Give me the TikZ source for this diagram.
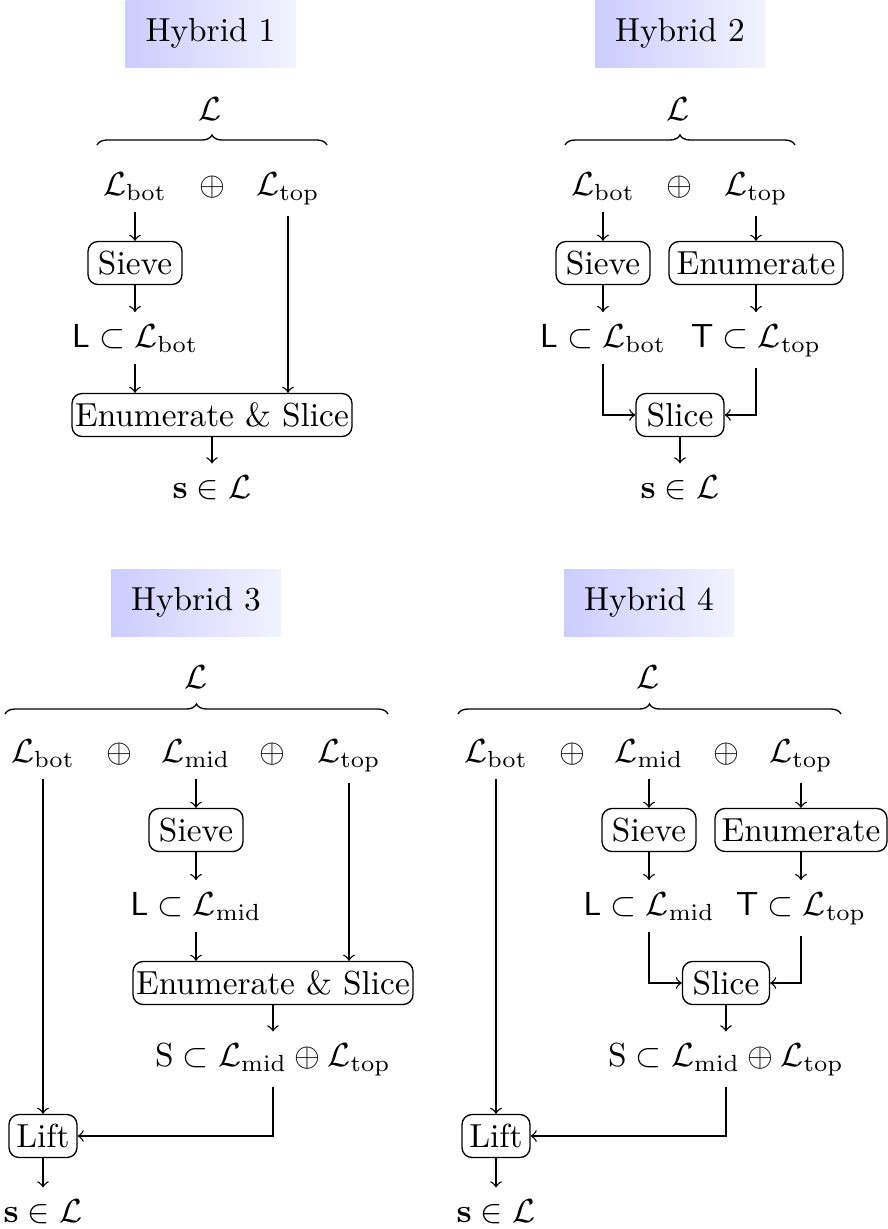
\documentclass[tikz,border=0pt]{standalone}
\usetikzlibrary{decorations.pathreplacing}
\begin{document}
\begin{tikzpicture}[x=0.3pt,y=-0.3pt,
  every node/.style={font=\fontsize{10}{12}\selectfont},
  title/.style={left color=blue!20, right color=blue!5, minimum width=51pt, minimum height=20.1pt, inner sep=0pt},
  proc/.style={draw, rounded corners=3pt, minimum height=12.9pt, inner sep=0pt},
  lbl/.style={anchor=base},
  conn/.style={->},
  bracestyle/.style={decorate, decoration={brace, amplitude=3pt}}]
\useasboundingbox (0,0) rectangle (888,1229);

% ---------------- Panel 1 ----------------
\node[title] (t1) at (210.5,33.5) {Hybrid 1};
\node[lbl] (p1L) at (210,120) {$\mathcal{L}$};
\coordinate (p1bl) at (97,145);
\coordinate (p1br) at (327,145);
\draw[bracestyle] (p1bl) -- (p1br);
\node[lbl] (p1bot) at (135,195) {$\mathcal{L}_{\mathrm{bot}}$};
\node[lbl] (p1op) at (212,195) {$\oplus$};
\node[lbl] (p1top) at (288,195) {$\mathcal{L}_{\mathrm{top}}$};
\node[proc, minimum width=28.2pt] (p1sieve) at (135,263) {Sieve};
\node[lbl] (p1Lsub) at (135,347) {$\mathsf{L}\subset\mathcal{L}_{\mathrm{bot}}$};
\node[proc, minimum width=84pt] (p1es) at (212,415) {Enumerate \& Slice};
\node[lbl] (p1s) at (212,498) {$\mathbf{s}\in\mathcal{L}$};
\draw[conn] (p1bot.south) -- (p1sieve.north);
\draw[conn] (p1sieve.south) -- (p1Lsub.north);
\draw[conn] (p1Lsub.south) -- (p1Lsub.south |- p1es.north);
\draw[conn] (p1top.south) -- (p1top.south |- p1es.north);
\draw[conn] (p1es.south) -- (p1s.north);

% ---------------- Panel 2 ----------------
\node[title] (t2) at (680,33.5) {Hybrid 2};
\node[lbl] (p2L) at (678,120) {$\mathcal{L}$};
\coordinate (p2bl) at (565,145);
\coordinate (p2br) at (795,145);
\draw[bracestyle] (p2bl) -- (p2br);
\node[lbl] (p2bot) at (603,195) {$\mathcal{L}_{\mathrm{bot}}$};
\node[lbl] (p2op) at (679,195) {$\oplus$};
\node[lbl] (p2top) at (756,195) {$\mathcal{L}_{\mathrm{top}}$};
\node[proc, minimum width=28.2pt] (p2sieve) at (603,263) {Sieve};
\node[proc, minimum width=52.2pt] (p2enum) at (756,263) {Enumerate};
\node[lbl] (p2Lsub) at (603,347) {$\mathsf{L}\subset\mathcal{L}_{\mathrm{bot}}$};
\node[lbl] (p2Tsub) at (756,347) {$\mathsf{T}\subset\mathcal{L}_{\mathrm{top}}$};
\node[proc, minimum width=26.4pt] (p2slice) at (680,415) {Slice};
\node[lbl] (p2s) at (680,498) {$\mathbf{s}\in\mathcal{L}$};
\draw[conn] (p2bot.south) -- (p2sieve.north);
\draw[conn] (p2top.south) -- (p2enum.north);
\draw[conn] (p2sieve.south) -- (p2Lsub.north);
\draw[conn] (p2enum.south) -- (p2Tsub.north);
\draw[conn] (p2Lsub.south) |- (p2slice.west);
\draw[conn] (p2Tsub.south) |- (p2slice.east);
\draw[conn] (p2slice.south) -- (p2s.north);

% ---------------- Panel 3 ----------------
\node[title] (t3) at (196,602.5) {Hybrid 3};
\node[lbl] (p3L) at (196,688) {$\mathcal{L}$};
\coordinate (p3bl) at (5,714);
\coordinate (p3br) at (388,714);
\draw[bracestyle] (p3bl) -- (p3br);
\node[lbl] (p3bot) at (43,762) {$\mathcal{L}_{\mathrm{bot}}$};
\node[lbl] (p3opa) at (119,762) {$\oplus$};
\node[lbl] (p3mid) at (196,762) {$\mathcal{L}_{\mathrm{mid}}$};
\node[lbl] (p3opb) at (272,762) {$\oplus$};
\node[lbl] (p3top) at (349,762) {$\mathcal{L}_{\mathrm{top}}$};
\node[proc, minimum width=28.2pt] (p3sieve) at (196,830) {Sieve};
\node[lbl] (p3Lsub) at (196,915) {$\mathsf{L}\subset\mathcal{L}_{\mathrm{mid}}$};
\node[proc, minimum width=84pt] (p3es) at (273,983) {Enumerate \& Slice};
\node[lbl] (p3Ssub) at (273,1066) {$\mathrm{S}\subset\mathcal{L}_{\mathrm{mid}}\oplus\mathcal{L}_{\mathrm{top}}$};
\node[proc, minimum width=20.4pt] (p3lift) at (43,1136) {Lift};
\node[lbl] (p3s) at (43,1222) {$\mathbf{s}\in\mathcal{L}$};
\draw[conn] (p3bot.south) -- (p3bot.south |- p3lift.north);
\draw[conn] (p3mid.south) -- (p3sieve.north);
\draw[conn] (p3sieve.south) -- (p3Lsub.north);
\draw[conn] (p3Lsub.south) -- (p3Lsub.south |- p3es.north);
\draw[conn] (p3top.south) -- (p3top.south |- p3es.north);
\draw[conn] (p3es.south) -- (p3es.south |- p3Ssub.north);
\draw[conn] (p3Ssub.south) |- (p3lift.east);
\draw[conn] (p3lift.south) -- (p3s.north);

% ---------------- Panel 4 ----------------
\node[title] (t4) at (649,602.5) {Hybrid 4};
\node[lbl] (p4L) at (648,688) {$\mathcal{L}$};
\coordinate (p4bl) at (458,714);
\coordinate (p4br) at (841,714);
\draw[bracestyle] (p4bl) -- (p4br);
\node[lbl] (p4bot) at (496,762) {$\mathcal{L}_{\mathrm{bot}}$};
\node[lbl] (p4opa) at (572,762) {$\oplus$};
\node[lbl] (p4mid) at (649,762) {$\mathcal{L}_{\mathrm{mid}}$};
\node[lbl] (p4opb) at (726,762) {$\oplus$};
\node[lbl] (p4top) at (801,762) {$\mathcal{L}_{\mathrm{top}}$};
\node[proc, minimum width=28.2pt] (p4sieve) at (649,830) {Sieve};
\node[proc, minimum width=51.6pt] (p4enum) at (801,830) {Enumerate};
\node[lbl] (p4Lsub) at (649,915) {$\mathsf{L}\subset\mathcal{L}_{\mathrm{mid}}$};
\node[lbl] (p4Tsub) at (801,915) {$\mathsf{T}\subset\mathcal{L}_{\mathrm{top}}$};
\node[proc, minimum width=26.1pt] (p4slice) at (726,983) {Slice};
\node[lbl] (p4Ssub) at (726,1066) {$\mathrm{S}\subset\mathcal{L}_{\mathrm{mid}}\oplus\mathcal{L}_{\mathrm{top}}$};
\node[proc, minimum width=20.4pt] (p4lift) at (496,1136) {Lift};
\node[lbl] (p4s) at (496,1222) {$\mathbf{s}\in\mathcal{L}$};
\draw[conn] (p4bot.south) -- (p4bot.south |- p4lift.north);
\draw[conn] (p4mid.south) -- (p4sieve.north);
\draw[conn] (p4top.south) -- (p4enum.north);
\draw[conn] (p4sieve.south) -- (p4Lsub.north);
\draw[conn] (p4enum.south) -- (p4Tsub.north);
\draw[conn] (p4Lsub.south) |- (p4slice.west);
\draw[conn] (p4Tsub.south) |- (p4slice.east);
\draw[conn] (p4slice.south) -- (p4Ssub.north);
\draw[conn] (p4Ssub.south) |- (p4lift.east);
\draw[conn] (p4lift.south) -- (p4s.north);
\end{tikzpicture}
\end{document}
